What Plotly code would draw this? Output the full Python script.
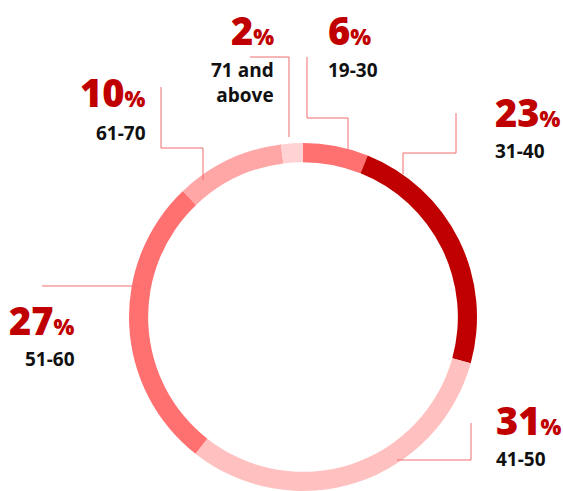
import plotly.graph_objects as go

W, H = 563, 491

age_groups = ["19-30", "31-40", "41-50", "51-60", "61-70", "71 and<br>above"]
shares = [6, 23, 31, 27, 10, 2]
colors = ["#ff7070", "#c00000", "#ffc0c0", "#ff7070", "#ffa6a6", "#ffd3d3"]

# label layout (pixels): x anchor, alignment, centre of value, centre of label
label_pos = {
    "19-30": (326, "left", 30, 70),
    "31-40": (493, "left", 112, 151),
    "41-50": (494, "left", 420, 459),
    "51-60": (77, "right", 320, 359),
    "61-70": (148, "right", 92, 133),
    "71 and<br>above": (276, "right", 30, 82),
}
# leader paths in pixels
leaders = [
    [(307, 57), (307, 118), (348, 118), (348, 150)],
    [(456, 113), (456, 153), (403, 153), (403, 174)],
    [(397, 460), (471, 460), (471, 423)],
    [(42, 286), (140, 286)],
    [(161, 87), (161, 148), (203, 148), (203, 180)],
    [(250, 57), (289, 57), (289, 137)],
]

cx, cy, R = 303, 318, 175

fig = go.Figure(go.Pie(
    labels=age_groups, values=shares, sort=False, direction="clockwise", rotation=0,
    hole=0.89, marker=dict(colors=colors, line=dict(width=0)),
    textinfo="none", hoverinfo="none", showlegend=False,
    domain=dict(x=[(cx - R) / W, (cx + R) / W], y=[max(0, (H - cy - R) / H), (H - cy + R) / H]),
))

def px(x):
    return x / W

def py(y):
    return (H - y) / H

shapes = []
for pts in leaders:
    path = "M " + " L ".join(f"{px(x):.5f},{py(y):.5f}" for x, y in pts)
    shapes.append(dict(type="path", xref="paper", yref="paper", path=path,
                       line=dict(color="#f26d6d", width=1)))

annotations = []
for lab, val in zip(age_groups, shares):
    x, align, yv, yl = label_pos[lab]
    annotations.append(dict(
        x=px(x), y=py(yv), xref="paper", yref="paper", xanchor=align, yanchor="middle",
        text=f"{val}<span style='font-size:22px'>%</span>",
        showarrow=False, align=align,
        font=dict(family="Open Sans", size=38, color="#c00000", weight=800),
    ))
    annotations.append(dict(
        x=px(x), y=py(yl), xref="paper", yref="paper", xanchor=align, yanchor="middle",
        text=lab, showarrow=False, align=align,
        font=dict(family="Open Sans", size=19, color="#111111", weight=700),
    ))

fig.update_layout(
    width=W, height=H, margin=dict(l=0, r=0, t=0, b=0),
    paper_bgcolor="white", plot_bgcolor="white",
    shapes=shapes, annotations=annotations,
)

fig.write_html("out.html", config={"displayModeBar": False},
               post_script="document.body.style.margin='0px';")
